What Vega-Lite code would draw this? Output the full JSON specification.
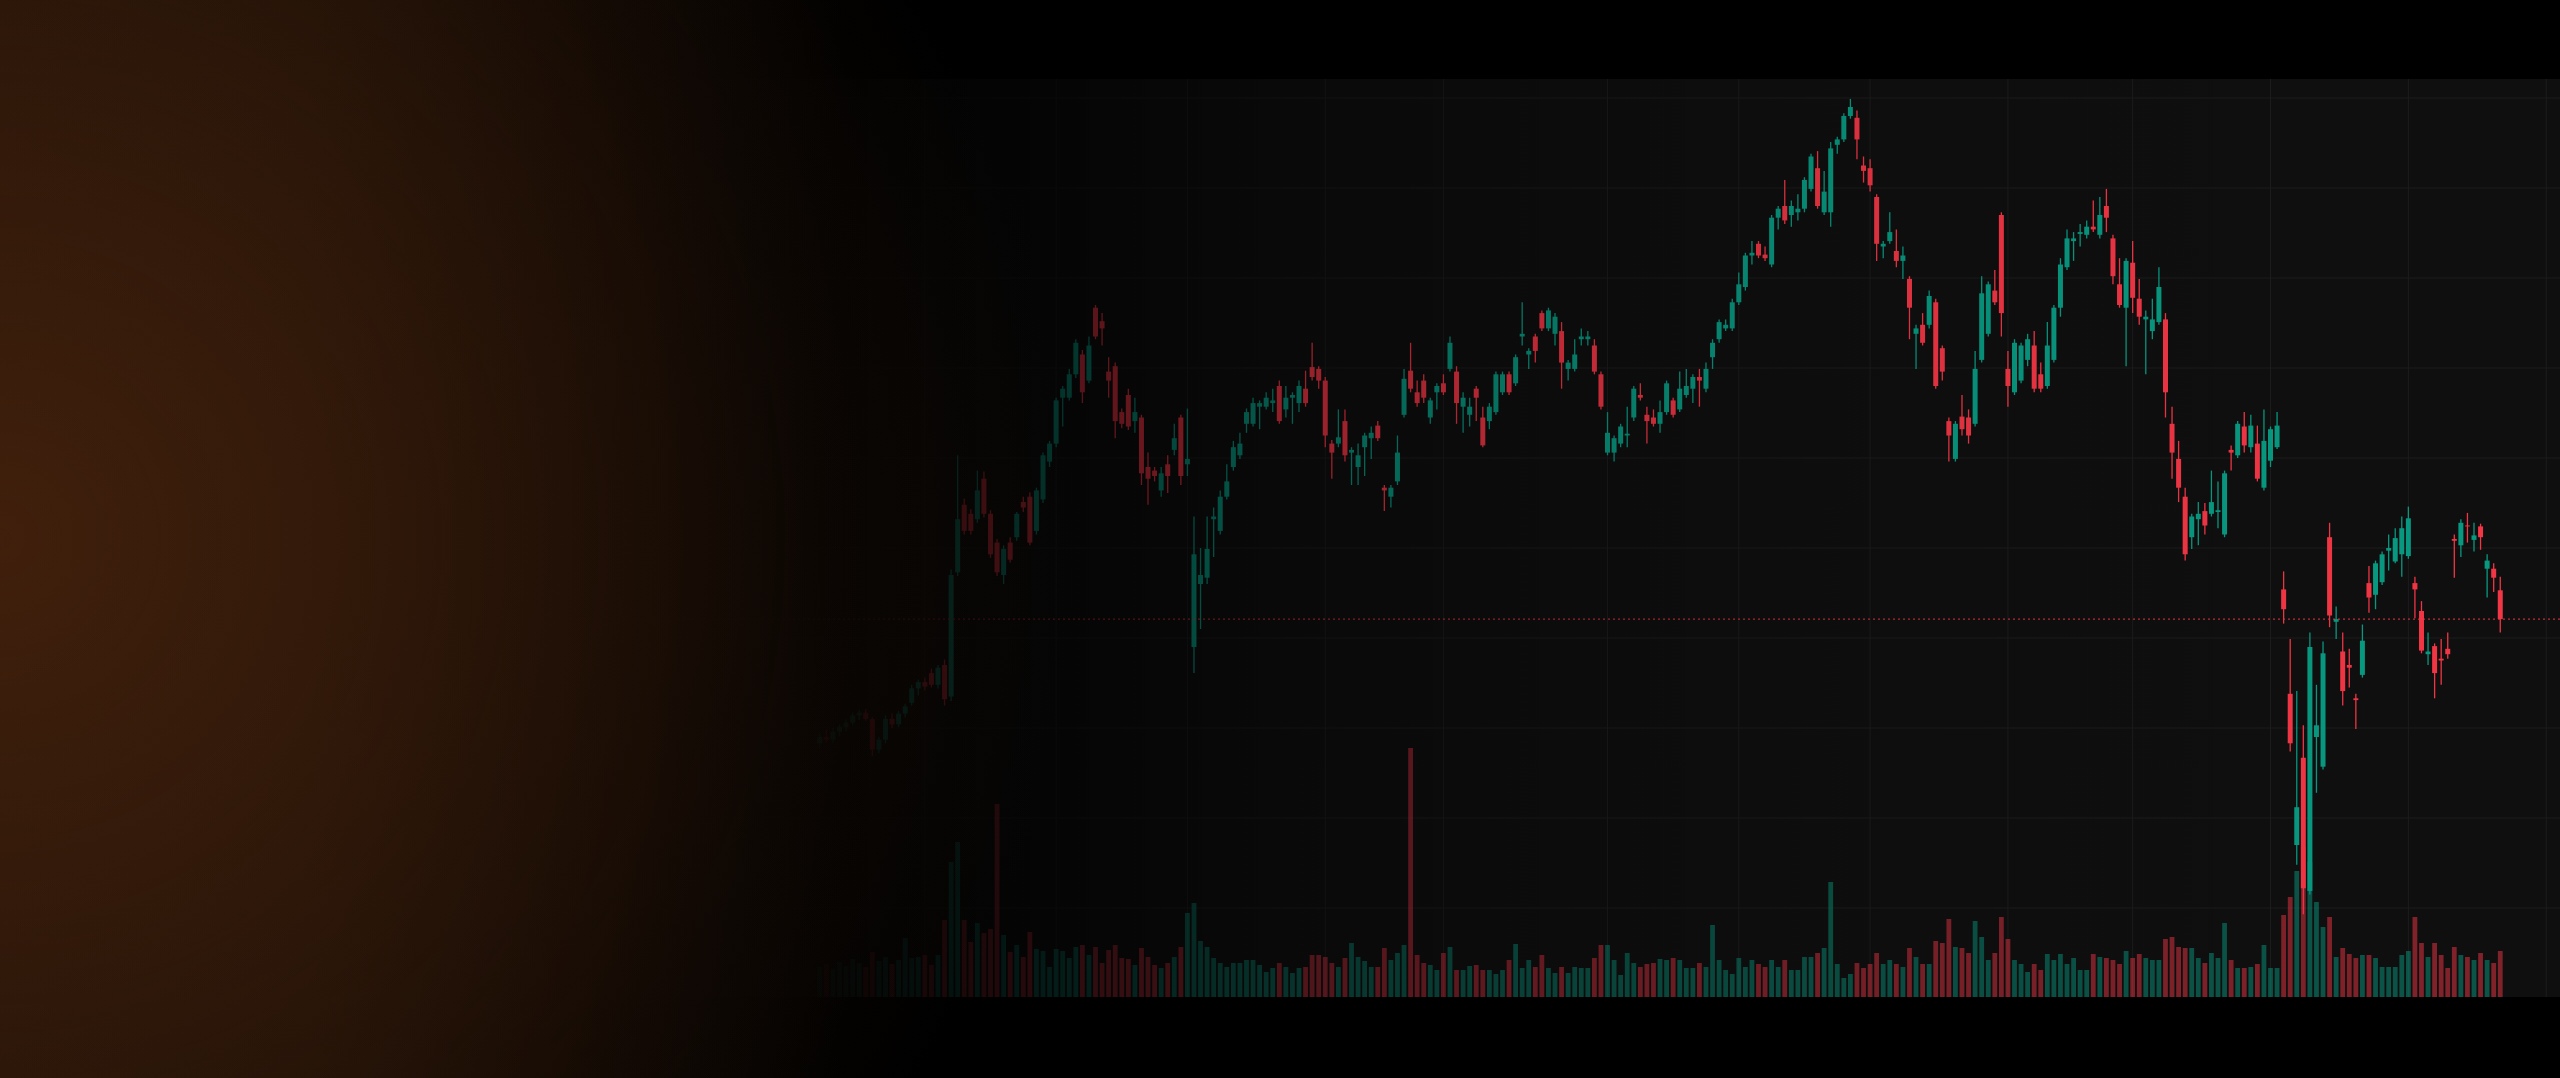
{
"$schema":"https://vega.github.io/schema/vega-lite/v6.json",
"width":2560,"height":1078,"padding":0,"autosize":{"type":"none"},
"background":"#000000",
"config":{"view":{"stroke":null}},
"datasets":{
"candles":[
{"i":0,"o":28.3,"h":29.5,"l":27.8,"c":29.0,"v":3.0},
{"i":1,"o":29.0,"h":29.8,"l":28.4,"c":28.7,"v":3.3},
{"i":2,"o":28.7,"h":30.0,"l":28.3,"c":29.6,"v":2.8},
{"i":3,"o":29.6,"h":30.4,"l":29.1,"c":30.1,"v":3.5},
{"i":4,"o":30.1,"h":31.0,"l":29.6,"c":30.6,"v":3.1},
{"i":5,"o":30.6,"h":31.7,"l":30.3,"c":31.4,"v":3.8},
{"i":6,"o":31.4,"h":32.0,"l":30.9,"c":31.7,"v":3.4},
{"i":7,"o":31.7,"h":32.1,"l":30.8,"c":31.0,"v":3.0},
{"i":8,"o":31.0,"h":31.2,"l":26.9,"c":27.6,"v":4.5},
{"i":9,"o":27.6,"h":29.0,"l":27.2,"c":28.7,"v":3.6},
{"i":10,"o":28.7,"h":31.4,"l":28.3,"c":31.0,"v":4.0},
{"i":11,"o":31.0,"h":31.6,"l":30.0,"c":30.4,"v":3.3},
{"i":12,"o":30.4,"h":31.9,"l":30.1,"c":31.6,"v":3.7},
{"i":13,"o":31.6,"h":32.7,"l":31.2,"c":32.4,"v":5.9},
{"i":14,"o":32.8,"h":34.8,"l":32.5,"c":34.4,"v":3.9},
{"i":15,"o":34.4,"h":35.4,"l":33.6,"c":35.1,"v":4.0},
{"i":16,"o":35.1,"h":35.6,"l":34.2,"c":34.6,"v":4.2},
{"i":17,"o":36.1,"h":36.6,"l":34.5,"c":34.8,"v":3.2},
{"i":18,"o":34.8,"h":37.0,"l":34.4,"c":36.7,"v":4.2},
{"i":19,"o":37.0,"h":37.6,"l":32.5,"c":33.2,"v":7.7},
{"i":20,"o":33.5,"h":47.6,"l":33.0,"c":47.0,"v":13.5},
{"i":21,"o":47.3,"h":60.3,"l":46.9,"c":53.2,"v":15.5},
{"i":22,"o":54.8,"h":55.5,"l":51.5,"c":51.9,"v":7.7},
{"i":23,"o":53.8,"h":54.3,"l":51.5,"c":51.9,"v":5.5},
{"i":24,"o":53.2,"h":58.6,"l":52.8,"c":56.4,"v":7.4},
{"i":25,"o":57.7,"h":58.5,"l":53.4,"c":53.8,"v":6.4},
{"i":26,"o":53.8,"h":54.2,"l":48.9,"c":49.3,"v":6.8},
{"i":27,"o":50.6,"h":51.0,"l":46.9,"c":47.3,"v":19.3},
{"i":28,"o":47.0,"h":50.3,"l":46.0,"c":49.9,"v":6.2},
{"i":29,"o":50.6,"h":51.2,"l":48.4,"c":48.7,"v":4.5},
{"i":30,"o":51.2,"h":54.0,"l":50.8,"c":53.8,"v":5.2},
{"i":31,"o":55.1,"h":55.7,"l":54.0,"c":54.5,"v":4.0},
{"i":32,"o":55.7,"h":56.2,"l":50.3,"c":50.6,"v":6.5},
{"i":33,"o":51.9,"h":56.7,"l":51.5,"c":56.4,"v":4.8},
{"i":34,"o":55.4,"h":60.6,"l":55.0,"c":60.3,"v":4.6},
{"i":35,"o":59.6,"h":61.9,"l":59.0,"c":61.6,"v":3.0},
{"i":36,"o":61.6,"h":66.7,"l":61.2,"c":66.4,"v":4.8},
{"i":37,"o":66.7,"h":68.0,"l":63.5,"c":67.7,"v":4.6},
{"i":38,"o":66.7,"h":69.9,"l":66.4,"c":69.3,"v":3.9},
{"i":39,"o":69.3,"h":73.2,"l":68.9,"c":72.8,"v":5.0},
{"i":40,"o":71.5,"h":72.0,"l":66.1,"c":67.3,"v":5.2},
{"i":41,"o":68.6,"h":73.5,"l":68.3,"c":72.5,"v":4.2},
{"i":42,"o":76.7,"h":77.0,"l":73.2,"c":73.5,"v":5.0},
{"i":43,"o":75.2,"h":76.1,"l":72.5,"c":74.4,"v":3.4},
{"i":44,"o":69.6,"h":71.2,"l":66.7,"c":68.6,"v":4.7},
{"i":45,"o":70.2,"h":70.6,"l":62.2,"c":64.1,"v":5.2},
{"i":46,"o":65.1,"h":65.5,"l":63.3,"c":63.8,"v":3.9},
{"i":47,"o":67.0,"h":67.7,"l":63.1,"c":63.5,"v":3.8},
{"i":48,"o":64.1,"h":66.7,"l":62.8,"c":65.1,"v":3.2},
{"i":49,"o":64.5,"h":64.8,"l":57.0,"c":58.3,"v":4.9},
{"i":50,"o":59.0,"h":60.6,"l":54.8,"c":57.7,"v":4.0},
{"i":51,"o":58.6,"h":59.0,"l":57.4,"c":58.0,"v":3.2},
{"i":52,"o":56.4,"h":59.0,"l":55.7,"c":58.3,"v":2.9},
{"i":53,"o":59.3,"h":60.3,"l":56.1,"c":58.0,"v":3.4},
{"i":54,"o":60.9,"h":63.8,"l":60.3,"c":62.2,"v":4.0},
{"i":55,"o":64.5,"h":64.8,"l":57.0,"c":58.0,"v":5.0},
{"i":56,"o":59.3,"h":65.5,"l":58.0,"c":59.9,"v":8.4},
{"i":57,"o":39.0,"h":53.5,"l":36.1,"c":49.3,"v":9.4},
{"i":58,"o":46.0,"h":50.0,"l":41.0,"c":47.0,"v":5.6},
{"i":59,"o":46.7,"h":53.5,"l":46.0,"c":49.9,"v":5.0},
{"i":60,"o":53.2,"h":54.5,"l":49.0,"c":53.5,"v":3.9},
{"i":61,"o":51.9,"h":56.4,"l":51.5,"c":55.7,"v":3.4},
{"i":62,"o":55.7,"h":59.3,"l":55.4,"c":57.4,"v":3.0},
{"i":63,"o":59.0,"h":61.9,"l":58.6,"c":61.2,"v":3.4},
{"i":64,"o":60.3,"h":62.8,"l":59.9,"c":61.6,"v":3.4},
{"i":65,"o":63.8,"h":65.5,"l":62.8,"c":65.1,"v":3.7},
{"i":66,"o":63.8,"h":66.7,"l":63.5,"c":66.1,"v":3.7},
{"i":67,"o":65.7,"h":66.4,"l":63.2,"c":66.1,"v":3.2},
{"i":68,"o":65.7,"h":67.3,"l":65.4,"c":66.7,"v":2.5},
{"i":69,"o":66.1,"h":67.7,"l":65.1,"c":66.4,"v":2.9},
{"i":70,"o":68.0,"h":68.6,"l":63.8,"c":64.1,"v":3.4},
{"i":71,"o":65.4,"h":68.0,"l":64.5,"c":66.7,"v":3.0},
{"i":72,"o":66.7,"h":67.3,"l":63.8,"c":67.0,"v":2.4},
{"i":73,"o":66.1,"h":68.6,"l":65.1,"c":68.0,"v":2.9},
{"i":74,"o":67.7,"h":69.7,"l":65.7,"c":66.1,"v":3.0},
{"i":75,"o":70.1,"h":72.8,"l":68.6,"c":69.0,"v":4.2},
{"i":76,"o":69.9,"h":70.2,"l":67.7,"c":68.6,"v":4.2},
{"i":77,"o":68.6,"h":69.0,"l":61.2,"c":62.5,"v":4.0},
{"i":78,"o":61.6,"h":62.0,"l":57.7,"c":60.6,"v":3.4},
{"i":79,"o":61.6,"h":65.4,"l":61.2,"c":62.3,"v":3.0},
{"i":80,"o":64.1,"h":65.4,"l":59.6,"c":60.3,"v":3.9},
{"i":81,"o":60.6,"h":61.2,"l":57.0,"c":60.9,"v":5.4},
{"i":82,"o":59.0,"h":61.6,"l":57.0,"c":60.3,"v":4.0},
{"i":83,"o":61.2,"h":62.8,"l":58.0,"c":62.5,"v":3.6},
{"i":84,"o":62.2,"h":63.5,"l":59.9,"c":62.8,"v":3.0},
{"i":85,"o":63.6,"h":64.1,"l":61.9,"c":62.2,"v":3.0},
{"i":86,"o":56.7,"h":57.0,"l":54.1,"c":56.4,"v":4.9},
{"i":87,"o":55.7,"h":57.0,"l":54.5,"c":56.7,"v":3.7},
{"i":88,"o":57.4,"h":62.5,"l":57.0,"c":60.6,"v":4.4},
{"i":89,"o":64.8,"h":69.9,"l":64.5,"c":68.8,"v":5.2},
{"i":90,"o":69.7,"h":72.8,"l":67.3,"c":67.7,"v":24.9},
{"i":91,"o":67.3,"h":68.6,"l":65.7,"c":66.1,"v":4.2},
{"i":92,"o":68.6,"h":69.3,"l":66.1,"c":66.7,"v":3.4},
{"i":93,"o":64.5,"h":66.7,"l":63.8,"c":66.4,"v":3.2},
{"i":94,"o":67.3,"h":68.3,"l":65.4,"c":68.0,"v":2.7},
{"i":95,"o":68.3,"h":69.3,"l":67.0,"c":67.3,"v":4.4},
{"i":96,"o":69.9,"h":73.5,"l":69.6,"c":72.8,"v":5.0},
{"i":97,"o":69.6,"h":70.2,"l":63.8,"c":66.1,"v":2.7},
{"i":98,"o":65.7,"h":67.3,"l":62.8,"c":66.7,"v":2.7},
{"i":99,"o":64.8,"h":66.7,"l":63.5,"c":65.7,"v":3.1},
{"i":100,"o":67.7,"h":68.0,"l":64.1,"c":66.7,"v":3.2},
{"i":101,"o":64.5,"h":65.7,"l":61.2,"c":61.4,"v":2.7},
{"i":102,"o":64.1,"h":66.1,"l":63.2,"c":65.7,"v":2.7},
{"i":103,"o":65.1,"h":69.6,"l":64.8,"c":69.3,"v":2.3},
{"i":104,"o":67.3,"h":69.6,"l":67.0,"c":69.3,"v":2.7},
{"i":105,"o":69.3,"h":69.6,"l":67.0,"c":67.3,"v":3.7},
{"i":106,"o":68.3,"h":71.5,"l":68.0,"c":71.2,"v":5.3},
{"i":107,"o":73.5,"h":77.3,"l":72.5,"c":73.8,"v":2.9},
{"i":108,"o":71.5,"h":72.2,"l":69.9,"c":71.9,"v":3.7},
{"i":109,"o":73.5,"h":73.8,"l":70.6,"c":71.9,"v":3.0},
{"i":110,"o":76.1,"h":76.4,"l":74.1,"c":74.4,"v":4.2},
{"i":111,"o":74.4,"h":76.7,"l":74.1,"c":76.4,"v":2.9},
{"i":112,"o":73.8,"h":76.1,"l":72.5,"c":75.7,"v":2.4},
{"i":113,"o":74.1,"h":75.1,"l":67.7,"c":70.6,"v":3.0},
{"i":114,"o":69.9,"h":70.9,"l":68.6,"c":70.6,"v":2.4},
{"i":115,"o":69.9,"h":73.2,"l":69.6,"c":71.5,"v":3.0},
{"i":116,"o":73.2,"h":74.4,"l":72.5,"c":73.5,"v":2.9},
{"i":117,"o":73.2,"h":74.1,"l":72.5,"c":73.5,"v":2.9},
{"i":118,"o":72.5,"h":73.2,"l":69.3,"c":69.6,"v":3.9},
{"i":119,"o":69.3,"h":69.6,"l":65.4,"c":65.7,"v":5.2},
{"i":120,"o":60.6,"h":65.1,"l":60.3,"c":62.8,"v":5.2},
{"i":121,"o":60.6,"h":62.5,"l":59.6,"c":62.2,"v":3.7},
{"i":122,"o":61.6,"h":63.8,"l":61.2,"c":63.5,"v":2.2},
{"i":123,"o":62.5,"h":65.7,"l":61.2,"c":62.7,"v":4.4},
{"i":124,"o":64.5,"h":68.0,"l":64.1,"c":67.7,"v":3.4},
{"i":125,"o":67.0,"h":68.3,"l":66.4,"c":66.7,"v":3.0},
{"i":126,"o":64.8,"h":65.7,"l":61.6,"c":64.1,"v":3.3},
{"i":127,"o":64.5,"h":65.4,"l":63.5,"c":63.8,"v":3.4},
{"i":128,"o":63.8,"h":66.4,"l":62.8,"c":65.1,"v":3.8},
{"i":129,"o":65.1,"h":68.6,"l":64.8,"c":68.3,"v":3.7},
{"i":130,"o":66.4,"h":66.7,"l":64.5,"c":64.8,"v":3.9},
{"i":131,"o":65.4,"h":69.6,"l":65.1,"c":67.7,"v":3.7},
{"i":132,"o":67.0,"h":69.9,"l":66.7,"c":68.0,"v":2.9},
{"i":133,"o":67.7,"h":69.3,"l":66.1,"c":69.0,"v":2.9},
{"i":134,"o":69.0,"h":69.9,"l":65.7,"c":68.6,"v":3.4},
{"i":135,"o":67.7,"h":70.6,"l":67.3,"c":69.9,"v":3.0},
{"i":136,"o":71.2,"h":73.2,"l":69.9,"c":72.8,"v":7.2},
{"i":137,"o":73.2,"h":75.4,"l":72.8,"c":75.1,"v":3.7},
{"i":138,"o":74.4,"h":75.4,"l":74.1,"c":74.8,"v":2.7},
{"i":139,"o":74.4,"h":77.7,"l":74.1,"c":77.3,"v":2.3},
{"i":140,"o":77.3,"h":80.6,"l":77.0,"c":79.3,"v":3.9},
{"i":141,"o":79.0,"h":82.8,"l":78.6,"c":82.5,"v":3.0},
{"i":142,"o":82.5,"h":84.1,"l":81.5,"c":82.8,"v":3.7},
{"i":143,"o":83.8,"h":84.1,"l":82.2,"c":82.5,"v":3.3},
{"i":144,"o":82.6,"h":83.5,"l":81.9,"c":82.2,"v":3.0},
{"i":145,"o":81.5,"h":87.0,"l":81.2,"c":86.7,"v":3.7},
{"i":146,"o":86.7,"h":88.0,"l":85.4,"c":87.7,"v":3.0},
{"i":147,"o":88.0,"h":90.9,"l":86.0,"c":86.4,"v":3.7},
{"i":148,"o":87.0,"h":88.6,"l":85.7,"c":88.0,"v":2.7},
{"i":149,"o":87.3,"h":89.3,"l":86.4,"c":87.7,"v":2.7},
{"i":150,"o":87.7,"h":91.2,"l":87.3,"c":90.9,"v":4.0},
{"i":151,"o":89.9,"h":93.8,"l":89.6,"c":93.5,"v":4.0},
{"i":152,"o":92.2,"h":94.1,"l":87.7,"c":88.0,"v":4.4},
{"i":153,"o":87.3,"h":91.9,"l":87.0,"c":89.6,"v":4.9},
{"i":154,"o":87.3,"h":95.1,"l":85.7,"c":94.4,"v":11.5},
{"i":155,"o":94.8,"h":95.7,"l":93.8,"c":95.4,"v":3.3},
{"i":156,"o":95.4,"h":98.3,"l":95.1,"c":98.0,"v":1.9},
{"i":157,"o":98.0,"h":99.9,"l":97.7,"c":99.0,"v":2.3},
{"i":158,"o":97.8,"h":98.6,"l":93.2,"c":95.4,"v":3.4},
{"i":159,"o":92.5,"h":93.5,"l":90.6,"c":91.9,"v":2.9},
{"i":160,"o":92.2,"h":93.2,"l":89.6,"c":90.3,"v":3.3},
{"i":161,"o":89.0,"h":89.3,"l":81.9,"c":83.8,"v":4.4},
{"i":162,"o":83.5,"h":84.1,"l":82.2,"c":83.8,"v":3.3},
{"i":163,"o":84.1,"h":87.3,"l":83.8,"c":85.1,"v":3.7},
{"i":164,"o":83.0,"h":85.4,"l":81.2,"c":81.9,"v":3.3},
{"i":165,"o":81.9,"h":83.5,"l":79.9,"c":82.5,"v":3.0},
{"i":166,"o":79.9,"h":80.2,"l":73.2,"c":76.7,"v":4.9},
{"i":167,"o":73.8,"h":74.8,"l":69.9,"c":74.4,"v":4.0},
{"i":168,"o":74.8,"h":76.1,"l":72.5,"c":72.8,"v":3.3},
{"i":169,"o":74.8,"h":78.6,"l":74.4,"c":78.0,"v":3.3},
{"i":170,"o":77.3,"h":77.7,"l":67.7,"c":68.0,"v":5.6},
{"i":171,"o":72.2,"h":72.5,"l":68.6,"c":69.6,"v":5.4},
{"i":172,"o":64.1,"h":64.5,"l":59.6,"c":62.5,"v":7.8},
{"i":173,"o":59.9,"h":64.1,"l":59.6,"c":63.8,"v":5.0},
{"i":174,"o":64.6,"h":67.0,"l":62.5,"c":63.2,"v":4.9},
{"i":175,"o":64.5,"h":65.4,"l":61.6,"c":62.5,"v":4.4},
{"i":176,"o":63.8,"h":71.9,"l":63.5,"c":69.9,"v":7.6},
{"i":177,"o":70.9,"h":80.2,"l":70.6,"c":78.3,"v":6.0},
{"i":178,"o":73.8,"h":79.6,"l":73.5,"c":79.3,"v":3.7},
{"i":179,"o":78.6,"h":80.9,"l":77.0,"c":77.3,"v":4.4},
{"i":180,"o":87.0,"h":87.3,"l":73.5,"c":76.1,"v":8.0},
{"i":181,"o":69.9,"h":71.9,"l":65.7,"c":68.0,"v":5.8},
{"i":182,"o":67.3,"h":73.2,"l":67.0,"c":72.8,"v":3.7},
{"i":183,"o":68.6,"h":72.8,"l":68.3,"c":72.5,"v":3.3},
{"i":184,"o":70.9,"h":73.8,"l":70.2,"c":73.2,"v":2.5},
{"i":185,"o":72.5,"h":74.1,"l":67.3,"c":67.7,"v":3.3},
{"i":186,"o":69.3,"h":70.6,"l":67.3,"c":67.7,"v":2.7},
{"i":187,"o":68.0,"h":75.1,"l":67.7,"c":72.5,"v":4.3},
{"i":188,"o":70.9,"h":77.0,"l":70.6,"c":76.7,"v":3.7},
{"i":189,"o":76.7,"h":82.2,"l":75.7,"c":81.5,"v":4.3},
{"i":190,"o":81.2,"h":85.4,"l":80.9,"c":84.4,"v":3.3},
{"i":191,"o":84.1,"h":85.1,"l":81.9,"c":84.4,"v":3.9},
{"i":192,"o":84.9,"h":86.0,"l":83.5,"c":85.1,"v":2.7},
{"i":193,"o":84.8,"h":86.4,"l":84.4,"c":85.7,"v":2.7},
{"i":194,"o":85.7,"h":88.6,"l":85.1,"c":85.4,"v":4.3},
{"i":195,"o":84.8,"h":89.0,"l":84.4,"c":87.0,"v":4.0},
{"i":196,"o":88.0,"h":89.9,"l":85.1,"c":86.7,"v":3.9},
{"i":197,"o":84.4,"h":84.8,"l":79.3,"c":80.2,"v":3.7},
{"i":198,"o":79.3,"h":82.2,"l":76.7,"c":77.0,"v":3.3},
{"i":199,"o":76.7,"h":82.2,"l":70.2,"c":81.9,"v":4.6},
{"i":200,"o":81.7,"h":84.1,"l":76.1,"c":77.8,"v":3.9},
{"i":201,"o":77.7,"h":79.9,"l":74.8,"c":75.7,"v":4.3},
{"i":202,"o":75.4,"h":76.4,"l":69.3,"c":75.7,"v":3.9},
{"i":203,"o":74.1,"h":77.7,"l":73.2,"c":75.4,"v":3.7},
{"i":204,"o":75.1,"h":81.2,"l":74.8,"c":79.0,"v":3.7},
{"i":205,"o":75.4,"h":76.1,"l":64.5,"c":67.3,"v":5.8},
{"i":206,"o":63.8,"h":65.7,"l":57.7,"c":60.6,"v":6.0},
{"i":207,"o":59.9,"h":61.9,"l":55.1,"c":56.7,"v":5.0},
{"i":208,"o":55.7,"h":56.7,"l":48.6,"c":49.3,"v":4.9},
{"i":209,"o":51.2,"h":53.8,"l":49.9,"c":53.5,"v":4.9},
{"i":210,"o":53.2,"h":55.1,"l":50.3,"c":53.8,"v":3.9},
{"i":211,"o":54.1,"h":55.0,"l":51.5,"c":52.5,"v":3.4},
{"i":212,"o":53.8,"h":58.6,"l":53.5,"c":55.1,"v":4.4},
{"i":213,"o":54.0,"h":57.4,"l":52.2,"c":54.2,"v":3.9},
{"i":214,"o":51.5,"h":58.6,"l":51.2,"c":58.3,"v":7.4},
{"i":215,"o":60.9,"h":61.4,"l":58.6,"c":60.6,"v":3.7},
{"i":216,"o":60.3,"h":64.1,"l":60.0,"c":63.8,"v":2.9},
{"i":217,"o":63.5,"h":65.1,"l":60.6,"c":61.4,"v":2.9},
{"i":218,"o":61.2,"h":64.8,"l":60.6,"c":63.6,"v":3.0},
{"i":219,"o":61.6,"h":63.6,"l":57.4,"c":57.7,"v":3.3},
{"i":220,"o":56.7,"h":65.4,"l":56.4,"c":61.9,"v":5.2},
{"i":221,"o":59.7,"h":63.5,"l":59.0,"c":63.2,"v":2.9},
{"i":222,"o":61.2,"h":65.1,"l":61.0,"c":63.6,"v":2.9},
{"i":223,"o":45.4,"h":47.4,"l":41.6,"c":43.2,"v":8.2},
{"i":224,"o":33.8,"h":39.9,"l":27.4,"c":28.3,"v":10.0},
{"i":225,"o":17.0,"h":34.1,"l":14.8,"c":21.2,"v":12.6},
{"i":226,"o":26.7,"h":30.3,"l":9.3,"c":12.2,"v":15.0},
{"i":227,"o":11.9,"h":40.6,"l":11.5,"c":39.0,"v":13.5},
{"i":228,"o":29.0,"h":34.8,"l":22.8,"c":30.3,"v":9.5},
{"i":229,"o":25.7,"h":39.6,"l":25.4,"c":38.3,"v":7.0},
{"i":230,"o":51.2,"h":52.8,"l":41.2,"c":42.5,"v":8.0},
{"i":231,"o":41.8,"h":43.5,"l":39.9,"c":42.1,"v":4.0},
{"i":232,"o":38.5,"h":40.6,"l":32.5,"c":34.1,"v":4.9},
{"i":233,"o":37.0,"h":38.8,"l":34.5,"c":36.7,"v":4.3},
{"i":234,"o":33.3,"h":33.8,"l":29.9,"c":33.1,"v":3.9},
{"i":235,"o":35.9,"h":41.5,"l":35.6,"c":39.7,"v":4.2},
{"i":236,"o":46.1,"h":48.0,"l":42.8,"c":44.5,"v":4.2},
{"i":237,"o":44.8,"h":48.6,"l":43.2,"c":48.3,"v":3.9},
{"i":238,"o":46.2,"h":49.6,"l":45.9,"c":49.3,"v":3.0},
{"i":239,"o":49.7,"h":51.5,"l":47.5,"c":50.0,"v":3.0},
{"i":240,"o":48.5,"h":52.2,"l":48.3,"c":51.1,"v":3.0},
{"i":241,"o":49.3,"h":53.5,"l":46.8,"c":52.2,"v":4.2},
{"i":242,"o":49.1,"h":54.6,"l":48.8,"c":53.3,"v":4.6},
{"i":243,"o":46.1,"h":46.8,"l":42.2,"c":45.4,"v":8.0},
{"i":244,"o":43.0,"h":44.1,"l":38.3,"c":38.6,"v":5.4},
{"i":245,"o":38.2,"h":40.6,"l":37.0,"c":38.5,"v":4.0},
{"i":246,"o":39.1,"h":39.4,"l":33.3,"c":36.1,"v":5.4},
{"i":247,"o":37.7,"h":39.9,"l":34.8,"c":37.5,"v":4.2},
{"i":248,"o":38.8,"h":40.6,"l":37.7,"c":38.2,"v":2.9},
{"i":249,"o":51.0,"h":51.5,"l":46.7,"c":50.8,"v":5.0},
{"i":250,"o":50.3,"h":53.2,"l":49.0,"c":52.8,"v":4.2},
{"i":251,"o":52.5,"h":53.9,"l":50.6,"c":52.4,"v":4.0},
{"i":252,"o":50.9,"h":52.8,"l":49.6,"c":51.4,"v":3.7},
{"i":253,"o":52.4,"h":52.7,"l":49.8,"c":51.2,"v":4.4},
{"i":254,"o":47.7,"h":49.3,"l":44.5,"c":48.6,"v":3.7},
{"i":255,"o":47.7,"h":48.3,"l":45.1,"c":46.7,"v":3.4},
{"i":256,"o":45.3,"h":46.8,"l":40.6,"c":42.1,"v":4.6}
]
},
"resolve":{"scale":{"y":"independent"}},
"layer":[
{"data":{"values":[{"bottom":0.11,"top":102.11}]},
 "mark":{"type":"rect","color":"#0f0f0f"},
 "encoding":{"y":{"field":"bottom","type":"quantitative","scale":{"domain":[-8.889,110.889],"nice":false,"zero":false},"axis":null},"y2":{"field":"top"}}},
{"data":{"values":[{"p":100},{"p":90},{"p":80},{"p":70},{"p":60},{"p":50},{"p":40},{"p":30},{"p":20},{"p":10}]},
 "mark":{"type":"rule","color":"#1d1d1d","strokeWidth":1},
 "encoding":{"y":{"field":"p","type":"quantitative","scale":{"domain":[-8.889,110.889],"nice":false,"zero":false},"axis":null}}},
{"data":{"values":[{"g":-47},{"g":-26},{"g":-5},{"g":16},{"g":36},{"g":56},{"g":77},{"g":95},{"g":120},{"g":140},{"g":160},{"g":181},{"g":200},{"g":221},{"g":242},{"g":263}]},
 "mark":{"type":"rule","color":"#1d1d1d","strokeWidth":1},
 "encoding":{"x":{"field":"g","type":"quantitative","scale":{"domain":[-124.13,264.34],"nice":false,"zero":false},"axis":null},
  "y":{"datum":0.11,"type":"quantitative","scale":{"domain":[-8.889,110.889],"nice":false,"zero":false},"axis":null},
  "y2":{"datum":102.11}}},
{"data":{"name":"candles"},
 "mark":{"type":"bar","size":4.8,"fillOpacity":0.5},
 "encoding":{"x":{"field":"i","type":"quantitative","scale":{"domain":[-124.13,264.34],"nice":false,"zero":false},"axis":null},
  "y":{"field":"v","type":"quantitative","scale":{"domain":[-8.1,99.7],"nice":false,"zero":false},"axis":null},
  "y2":{"datum":0},
  "color":{"condition":{"test":"datum.c >= datum.o","value":"#089981"},"value":"#f23645"}}},
{"data":{"name":"candles"},
 "mark":{"type":"rule","strokeWidth":1.3},
 "encoding":{"x":{"field":"i","type":"quantitative","scale":{"domain":[-124.13,264.34],"nice":false,"zero":false},"axis":null},
  "y":{"field":"l","type":"quantitative","scale":{"domain":[-8.889,110.889],"nice":false,"zero":false},"axis":null},
  "y2":{"field":"h"},
  "color":{"condition":{"test":"datum.c >= datum.o","value":"#089981"},"value":"#f23645"}}},
{"data":{"name":"candles"},
 "mark":{"type":"bar","size":5},
 "encoding":{"x":{"field":"i","type":"quantitative","scale":{"domain":[-124.13,264.34],"nice":false,"zero":false},"axis":null},
  "y":{"field":"o","type":"quantitative","scale":{"domain":[-8.889,110.889],"nice":false,"zero":false},"axis":null},
  "y2":{"field":"c"},
  "color":{"condition":{"test":"datum.c >= datum.o","value":"#089981"},"value":"#f23645"}}},
{"data":{"name":"candles"},
 "transform":[{"filter":"datum.i == 256"}],
 "mark":{"type":"rule","color":"#f23645","strokeWidth":1,"strokeDash":[2,3]},
 "encoding":{"y":{"field":"c","type":"quantitative","scale":{"domain":[-8.889,110.889],"nice":false,"zero":false},"axis":null}}},
{"data":{"values":[{}]},
 "mark":{"type":"rect","fill":{"gradient":"linear","x1":0,"y1":0,"x2":1,"y2":0,"stops":[
   {"offset":0,"color":"rgba(29,16,7,1)"},
   {"offset":0.12,"color":"rgba(25,14,6,1)"},
   {"offset":0.22,"color":"rgba(13,7,3,1)"},
   {"offset":0.30,"color":"rgba(3,2,1,0.97)"},
   {"offset":0.33,"color":"rgba(0,0,0,0.93)"},
   {"offset":0.37,"color":"rgba(0,0,0,0.80)"},
   {"offset":0.43,"color":"rgba(0,0,0,0.62)"},
   {"offset":0.51,"color":"rgba(0,0,0,0.38)"},
   {"offset":0.61,"color":"rgba(0,0,0,0.22)"},
   {"offset":0.70,"color":"rgba(0,0,0,0.12)"},
   {"offset":0.80,"color":"rgba(0,0,0,0.06)"},
   {"offset":0.90,"color":"rgba(0,0,0,0.02)"},
   {"offset":1,"color":"rgba(0,0,0,0)"}]}},
 "encoding":{}},
{"data":{"values":[{}]},
 "mark":{"type":"rect","fill":{"gradient":"radial","x1":0,"y1":0.5,"r1":0,"x2":0,"y2":0.5,"r2":0.42,"stops":[
   {"offset":0,"color":"rgba(72,35,13,0.82)"},
   {"offset":0.4,"color":"rgba(72,35,13,0.46)"},
   {"offset":0.75,"color":"rgba(72,35,13,0.15)"},
   {"offset":1,"color":"rgba(72,35,13,0)"}]}},
 "encoding":{}}
]
}
